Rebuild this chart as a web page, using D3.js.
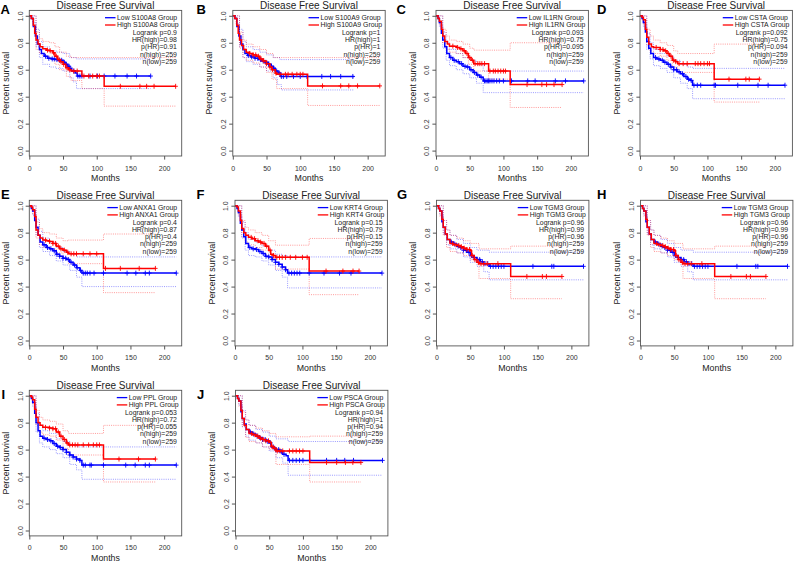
<!DOCTYPE html>
<html>
<head>
  <meta charset="utf-8">
  <title>Disease Free Survival</title>
  <script src="https://d3js.org/d3.v7.min.js"></script>
  <style>
    body { margin: 0; background: #fff; }
    text { font-family: "Liberation Sans", Arial, sans-serif; }
  </style>
</head>
<body>
  <script>
    // labels and statistics
    var letters = ["A", "B", "C", "D", "E", "F", "G", "H", "I", "J"];
    var genes = ["S100A8", "S100A9", "IL1RN", "CSTA", "ANXA1", "KRT4", "TGM3", "TGM3", "PPL", "PSCA"];
    var logrankP = ["0.9", "1", "0.093", "0.092", "0.4", "0.15", "0.96", "0.96", "0.053", "0.94"];
    var hrHigh = ["0.98", "1", "0.75", "0.75", "0.87", "0.79", "0.99", "0.99", "0.72", "1"];
    var pHR = ["0.91", "1", "0.095", "0.094", "0.4", "0.15", "0.96", "0.96", "0.055", "0.94"];
    var nHigh = [259, 259, 259, 259, 259, 259, 259, 259, 259, 259];
    var nLow = [259, 259, 259, 259, 259, 259, 259, 259, 259, 259];
    var xTicks = [0, 50, 100, 150, 200];
    var yTicks = [0, 0.2, 0.4, 0.6, 0.8, 1.0];

    // [months, survival] step points, censor times
    var aLow = [[0,1],[3,.98],[6,.92],[9,.85],[12,.79],[15,.75],[18,.72],[22,.70],[27,.685],[33,.68],[38,.675],[43,.67],[50,.655],[53,.64],[57,.625],[60,.61],[63,.59],[68,.575],[71,.553],[180,.553]];
    var aHigh = [[0,1],[3,.98],[6,.93],[8,.87],[10,.82],[13,.79],[16,.77],[20,.755],[25,.745],[30,.74],[35,.725],[38,.70],[42,.675],[46,.66],[50,.64],[54,.615],[58,.60],[62,.59],[78,.553],[111,.477],[217,.477]];
    var aLowUp = [[0,1],[5,1],[10,.9],[15,.81],[20,.77],[30,.74],[40,.73],[50,.72],[60,.69],[70,.68],[180,.68]];
    var aLowLo = [[0,1],[5,.95],[10,.77],[15,.69],[20,.64],[30,.62],[40,.61],[50,.59],[60,.54],[65,.51],[70,.46],[180,.46]];
    var aHighUp = [[0,1],[5,1],[10,.88],[15,.83],[20,.81],[30,.8],[38,.77],[45,.73],[55,.7],[62,.69],[217,.69]];
    var aHighLo = [[0,1],[5,.93],[10,.75],[15,.72],[20,.7],[30,.68],[38,.64],[45,.6],[55,.55],[62,.52],[78,.46],[111,.33],[217,.33]];
    var aLowCens = [24,29,34,37,41,45,48,52,55,59,66,72,75,78,90,101,111,127,145,159,180];
    var aHighCens = [27,31,36,40,44,47,51,56,60,66,71,81,88,94,100,104,135,164,174,185,217];

    var bLow = [[0,1],[3,.98],[6,.92],[9,.85],[12,.79],[15,.75],[18,.72],[22,.705],[27,.695],[33,.685],[38,.675],[43,.665],[48,.655],[53,.64],[57,.625],[60,.61],[63,.59],[67,.575],[71,.55],[180,.55]];
    var bHigh = [[0,1],[3,.98],[6,.93],[8,.87],[10,.82],[13,.78],[16,.75],[20,.73],[25,.72],[30,.71],[35,.70],[40,.68],[45,.665],[50,.645],[55,.62],[58,.60],[63,.575],[65,.566],[111,.48],[218,.48]];
    var bLowUp = [[0,1],[5,1],[10,.9],[15,.81],[20,.77],[30,.75],[40,.73],[50,.71],[60,.69],[70,.675],[180,.675]];
    var bLowLo = [[0,1],[5,.94],[10,.77],[15,.69],[20,.66],[30,.64],[40,.62],[50,.59],[60,.54],[66,.49],[72,.45],[180,.45]];
    var bHighUp = [[0,1],[5,1],[10,.88],[15,.82],[20,.79],[30,.77],[40,.75],[50,.72],[60,.69],[218,.69]];
    var bHighLo = [[0,1],[5,.93],[10,.76],[15,.69],[20,.67],[30,.65],[40,.62],[50,.58],[58,.53],[65,.46],[111,.335],[218,.335]];
    var bLowCens = [23,28,33,37,41,45,49,53,57,61,65,69,72,75,80,90,100,110,132,145,160,178];
    var bHighCens = [25,30,34,38,42,46,50,55,59,64,70,78,82,88,95,100,104,133,160,172,185,218];

    var cLow = [[0,1],[3,.98],[5,.95],[8,.87],[10,.82],[13,.77],[16,.72],[20,.69],[25,.67],[30,.66],[35,.645],[40,.625],[45,.62],[50,.60],[55,.58],[60,.56],[65,.545],[70,.517],[219,.517]];
    var cHigh = [[0,1],[3,.98],[5,.96],[8,.90],[10,.85],[13,.81],[17,.79],[20,.775],[30,.765],[35,.755],[40,.74],[44,.72],[48,.69],[52,.67],[56,.645],[78,.59],[110,.49],[187,.49]];
    var cLowUp = [[0,1],[5,1],[10,.88],[15,.8],[20,.75],[30,.72],[40,.69],[50,.67],[60,.64],[70,.59],[219,.59]];
    var cLowLo = [[0,1],[5,.92],[10,.76],[15,.67],[20,.63],[30,.60],[40,.57],[50,.54],[60,.5],[70,.43],[219,.43]];
    var cHighUp = [[0,1],[5,1],[10,.9],[15,.85],[20,.82],[30,.81],[40,.79],[50,.76],[56,.745],[110,.80],[187,.80]];
    var cHighLo = [[0,1],[5,.93],[10,.8],[15,.75],[20,.73],[30,.72],[40,.69],[48,.64],[56,.59],[78,.53],[110,.32],[187,.32]];
    var cLowCens = [22,27,33,38,43,47,52,57,62,67,72,74,76,78,80,83,86,90,94,100,112,136,147,177,192,219];
    var cHighCens = [25,32,37,42,46,50,54,58,62,65,68,72,80,85,88,92,96,100,103,135,157,164,175,187];

    var dLow = [[0,1],[3,.98],[5,.95],[8,.88],[10,.81],[13,.76],[16,.72],[20,.69],[25,.68],[30,.67],[35,.655],[40,.64],[45,.62],[50,.60],[55,.585],[60,.57],[65,.55],[70,.53],[75,.52],[78,.485],[215,.485]];
    var dHigh = [[0,1],[3,.99],[5,.97],[8,.9],[10,.84],[13,.79],[17,.77],[20,.765],[30,.75],[35,.74],[40,.72],[44,.70],[48,.67],[53,.66],[56,.645],[110,.53],[177,.53]];
    var dLowUp = [[0,1],[5,1],[10,.87],[15,.8],[20,.75],[30,.72],[40,.7],[50,.67],[60,.64],[70,.62],[78,.61],[215,.61]];
    var dLowLo = [[0,1],[5,.92],[10,.75],[15,.68],[20,.63],[30,.61],[40,.58],[50,.54],[60,.5],[70,.46],[78,.385],[215,.385]];
    var dHighUp = [[0,1],[5,1],[10,.9],[15,.85],[20,.82],[30,.8],[40,.78],[50,.74],[56,.72],[110,.79],[177,.79]];
    var dHighLo = [[0,1],[5,.94],[10,.78],[15,.74],[20,.72],[30,.7],[40,.67],[48,.62],[56,.58],[110,.36],[177,.36]];
    var dLowCens = [23,28,33,37,42,46,50,54,58,63,68,72,76,80,85,90,110,112,145,175,190,215];
    var dHighCens = [24,30,34,38,42,46,50,53,58,64,70,82,86,90,95,100,103,132,157,162,177];

    var eLow = [[0,1],[3,.98],[5,.96],[8,.89],[10,.84],[13,.78],[16,.73],[20,.71],[25,.69],[30,.68],[35,.665],[40,.64],[45,.625],[50,.61],[55,.60],[60,.58],[65,.56],[70,.54],[75,.52],[78,.50],[218,.50]];
    var eHigh = [[0,1],[3,.99],[5,.97],[8,.92],[10,.82],[13,.78],[16,.76],[20,.745],[25,.74],[30,.735],[35,.72],[40,.70],[45,.68],[50,.67],[55,.655],[58,.643],[110,.535],[187,.535]];
    var eLowUp = [[0,1],[5,1],[10,.9],[15,.81],[20,.76],[30,.73],[40,.69],[50,.66],[60,.64],[70,.62],[218,.62]];
    var eLowLo = [[0,1],[5,.93],[10,.78],[15,.69],[20,.66],[30,.63],[40,.59],[50,.56],[60,.52],[70,.47],[78,.40],[218,.40]];
    var eHighUp = [[0,1],[5,1],[10,.88],[15,.83],[20,.8],[30,.79],[40,.76],[50,.74],[58,.745],[110,.79],[187,.79]];
    var eHighLo = [[0,1],[5,.94],[10,.76],[15,.71],[20,.69],[30,.68],[40,.65],[50,.61],[58,.57],[110,.355],[187,.355]];
    var eLowCens = [22,27,32,37,41,45,50,54,58,62,67,71,76,80,83,86,90,96,110,145,158,172,178,218];
    var eHighCens = [24,30,35,39,43,47,52,57,62,66,70,80,90,100,113,135,163,187];

    var fLow = [[0,1],[3,.98],[5,.95],[8,.87],[10,.82],[13,.77],[16,.72],[20,.69],[25,.68],[30,.675],[35,.66],[40,.645],[45,.625],[50,.62],[55,.60],[60,.58],[65,.565],[70,.545],[75,.525],[78,.50],[218,.50]];
    var fHigh = [[0,1],[3,.99],[5,.96],[8,.89],[10,.83],[13,.80],[16,.78],[20,.765],[25,.755],[30,.74],[35,.73],[40,.72],[45,.70],[50,.67],[53,.64],[57,.63],[60,.617],[110,.515],[184,.515]];
    var fLowUp = [[0,1],[5,1],[10,.88],[15,.8],[20,.75],[30,.73],[40,.7],[50,.67],[60,.64],[70,.63],[78,.62],[218,.62]];
    var fLowLo = [[0,1],[5,.92],[10,.76],[15,.67],[20,.63],[30,.62],[40,.59],[50,.56],[60,.52],[70,.47],[78,.39],[218,.39]];
    var fHighUp = [[0,1],[5,1],[10,.89],[15,.84],[20,.82],[30,.8],[40,.78],[50,.74],[60,.707],[110,.757],[184,.757]];
    var fHighLo = [[0,1],[5,.93],[10,.77],[15,.73],[20,.71],[30,.69],[40,.67],[50,.61],[60,.53],[110,.34],[184,.34]];
    var fLowCens = [22,27,32,37,42,46,50,55,60,65,70,75,80,84,88,92,96,110,132,155,172,218];
    var fHighCens = [24,29,34,38,43,47,52,57,62,66,70,75,82,90,100,107,135,160,175,184];

    var gLow = [[0,1],[3,.98],[5,.96],[8,.88],[10,.84],[13,.79],[16,.75],[20,.73],[25,.715],[30,.70],[35,.69],[40,.67],[45,.655],[50,.63],[55,.615],[60,.60],[65,.585],[70,.57],[78,.55],[218,.55]];
    var gHigh = [[0,1],[3,.98],[5,.96],[8,.9],[10,.84],[13,.79],[16,.75],[20,.72],[25,.71],[30,.705],[35,.695],[40,.685],[45,.675],[50,.665],[52,.63],[56,.60],[60,.58],[63,.57],[110,.475],[186,.475]];
    var gLowUp = [[0,1],[5,1],[10,.89],[15,.82],[20,.78],[30,.75],[40,.72],[50,.69],[60,.67],[78,.655],[218,.655]];
    var gLowLo = [[0,1],[5,.93],[10,.79],[15,.71],[20,.68],[30,.65],[40,.62],[50,.58],[60,.55],[70,.51],[78,.45],[218,.45]];
    var gHighUp = [[0,1],[5,1],[10,.89],[15,.82],[20,.78],[30,.76],[40,.74],[50,.72],[63,.68],[110,.70],[186,.70]];
    var gHighLo = [[0,1],[5,.92],[10,.78],[15,.69],[20,.66],[30,.65],[40,.63],[50,.6],[63,.46],[110,.31],[186,.31]];
    var gLowCens = [22,27,32,36,40,44,48,52,56,60,64,68,72,76,80,84,88,92,96,100,143,171,174,218];
    var gHighCens = [24,29,33,37,41,45,49,53,57,62,66,70,75,91,134,157,163,186];

    var iLow = [[0,1],[3,.98],[5,.95],[8,.87],[10,.80],[13,.74],[16,.70],[20,.685],[25,.675],[30,.665],[35,.645],[40,.625],[45,.615],[50,.60],[55,.58],[60,.56],[65,.545],[70,.53],[75,.52],[78,.485],[218,.485]];
    var iHigh = [[0,1],[3,.99],[5,.97],[8,.9],[10,.84],[13,.80],[16,.78],[20,.765],[30,.76],[35,.755],[40,.73],[45,.70],[50,.675],[55,.65],[58,.635],[110,.53],[187,.53]];
    var iLowUp = [[0,1],[5,1],[10,.87],[15,.78],[20,.74],[30,.72],[40,.68],[50,.66],[60,.63],[70,.62],[218,.62]];
    var iLowLo = [[0,1],[5,.92],[10,.73],[15,.65],[20,.62],[30,.60],[40,.57],[50,.54],[60,.49],[70,.45],[78,.38],[218,.38]];
    var iHighUp = [[0,1],[5,1],[10,.89],[15,.84],[20,.82],[30,.81],[40,.79],[50,.74],[58,.72],[110,.78],[187,.78]];
    var iHighLo = [[0,1],[5,.94],[10,.78],[15,.73],[20,.71],[30,.70],[40,.67],[50,.61],[58,.56],[110,.36],[187,.36]];
    var iLowCens = [22,27,32,37,42,46,50,55,60,65,70,75,80,83,90,92,110,143,157,172,178,218];
    var iHighCens = [24,30,35,39,43,47,52,56,60,64,68,72,80,88,95,100,104,133,162,187];

    var jLow = [[0,1],[3,.98],[5,.96],[8,.88],[10,.83],[13,.79],[16,.75],[20,.73],[25,.715],[30,.70],[35,.69],[40,.675],[45,.66],[50,.65],[53,.62],[57,.61],[60,.60],[65,.585],[70,.565],[75,.555],[78,.52],[218,.52]];
    var jHigh = [[0,1],[3,.98],[5,.96],[8,.89],[10,.83],[13,.78],[16,.75],[20,.72],[25,.71],[30,.70],[35,.685],[40,.675],[45,.665],[50,.655],[53,.625],[56,.61],[60,.59],[110,.505],[186,.505]];
    var jLowUp = [[0,1],[5,1],[10,.89],[15,.82],[20,.78],[30,.75],[40,.73],[50,.7],[60,.68],[78,.66],[218,.66]];
    var jLowLo = [[0,1],[5,.93],[10,.77],[15,.7],[20,.67],[30,.65],[40,.62],[50,.59],[60,.54],[70,.5],[78,.41],[218,.41]];
    var jHighUp = [[0,1],[5,1],[10,.88],[15,.82],[20,.78],[30,.76],[40,.74],[50,.72],[60,.695],[110,.70],[186,.70]];
    var jHighLo = [[0,1],[5,.92],[10,.77],[15,.69],[20,.66],[30,.65],[40,.62],[50,.6],[60,.49],[110,.36],[186,.36]];
    var jLowCens = [22,27,32,36,40,44,48,52,56,60,64,68,72,80,85,90,95,100,110,135,150,162,175,218];
    var jHighCens = [24,29,33,37,41,45,49,54,58,62,66,70,80,85,90,95,100,135,150,163,174,186];

    var panels = [
      { low: aLow, high: aHigh, lowUp: aLowUp, lowLo: aLowLo, highUp: aHighUp, highLo: aHighLo, lowCens: aLowCens, highCens: aHighCens },
      { low: bLow, high: bHigh, lowUp: bLowUp, lowLo: bLowLo, highUp: bHighUp, highLo: bHighLo, lowCens: bLowCens, highCens: bHighCens },
      { low: cLow, high: cHigh, lowUp: cLowUp, lowLo: cLowLo, highUp: cHighUp, highLo: cHighLo, lowCens: cLowCens, highCens: cHighCens },
      { low: dLow, high: dHigh, lowUp: dLowUp, lowLo: dLowLo, highUp: dHighUp, highLo: dHighLo, lowCens: dLowCens, highCens: dHighCens },
      { low: eLow, high: eHigh, lowUp: eLowUp, lowLo: eLowLo, highUp: eHighUp, highLo: eHighLo, lowCens: eLowCens, highCens: eHighCens },
      { low: fLow, high: fHigh, lowUp: fLowUp, lowLo: fLowLo, highUp: fHighUp, highLo: fHighLo, lowCens: fLowCens, highCens: fHighCens },
      { low: gLow, high: gHigh, lowUp: gLowUp, lowLo: gLowLo, highUp: gHighUp, highLo: gHighLo, lowCens: gLowCens, highCens: gHighCens },
      { low: gLow, high: gHigh, lowUp: gLowUp, lowLo: gLowLo, highUp: gHighUp, highLo: gHighLo, lowCens: gLowCens, highCens: gHighCens },
      { low: iLow, high: iHigh, lowUp: iLowUp, lowLo: iLowLo, highUp: iHighUp, highLo: iHighLo, lowCens: iLowCens, highCens: iHighCens },
      { low: jLow, high: jHigh, lowUp: jLowUp, lowLo: jLowLo, highUp: jHighUp, highLo: jHighLo, lowCens: jLowCens, highCens: jHighCens }
    ];

    // layout
    var boxW = 152.4, boxH = 145.6;
    var panelLeft = [29.3, 232.8, 436, 640, 29.3, 235, 436.5, 640.5, 29.3, 235.5];
    var rowTop = [10.4, 200.3, 390.3];
    var letterPos = [[0.5, 13.5], [196.5, 13.5], [396.5, 13.5], [597, 13.5],
                     [1, 198.5], [196.5, 198.5], [397, 198.5], [597, 198.5],
                     [1.5, 398.5], [197, 398.5]];
    var blue = "#0000ff", red = "#ff0000";

    var svg = d3.select("body").append("svg")
      .attr("width", 795)
      .attr("height", 564)
      .style("display", "block");
    svg.append("rect").attr("width", 795).attr("height", 564).attr("fill", "#fff");

    var x = d3.scaleLinear().domain([0, 226]).range([0, boxW]);
    var y = d3.scaleLinear().domain([-0.04, 1.04]).range([boxH, 0]);
    var step = d3.line()
      .x(function(d) { return x(d[0]); })
      .y(function(d) { return y(d[1]); })
      .curve(d3.curveStepAfter);
    var bis = d3.bisector(function(d) { return d[0]; }).right;

    function survAt(curve, t) {
      var i = Math.max(0, bis(curve, t) - 1);
      return curve[i][1];
    }

    panels.forEach(function(p, k) {
      var top = rowTop[Math.floor(k / 4)];
      var g = svg.append("g")
        .attr("transform", "translate(" + panelLeft[k] + "," + top + ")");

      // confidence bands (dotted)
      [[p.lowUp, blue], [p.lowLo, blue], [p.highUp, red], [p.highLo, red]].forEach(function(c) {
        g.append("path")
          .attr("d", step(c[0]))
          .attr("fill", "none")
          .attr("stroke", c[1])
          .attr("stroke-opacity", 0.5)
          .attr("stroke-width", 0.8)
          .attr("stroke-dasharray", "1,1.2");
      });

      // survival curves + censor marks
      [[p.low, p.lowCens, blue], [p.high, p.highCens, red]].forEach(function(c) {
        g.append("path")
          .attr("d", step(c[0]))
          .attr("fill", "none")
          .attr("stroke", c[2])
          .attr("stroke-width", 1.5);
        g.selectAll(null)
          .data(c[1])
          .enter()
          .append("path")
          .attr("d", function(t) {
            var px = x(t), py = y(survAt(c[0], t));
            return "M" + (px - 2.2) + "," + py + "H" + (px + 2.2) +
                   "M" + px + "," + (py - 2.5) + "V" + (py + 2.5);
          })
          .attr("stroke", c[2])
          .attr("stroke-width", 0.9);
      });

      // frame
      g.append("rect")
        .attr("width", boxW)
        .attr("height", boxH)
        .attr("fill", "none")
        .attr("stroke", "#555")
        .attr("stroke-width", 0.9);

      // axes
      var ya = g.append("g").call(
        d3.axisLeft(y).tickValues(yTicks).tickSize(3.6).tickFormat(d3.format(".1f")));
      ya.select(".domain").remove();
      ya.selectAll("line").attr("stroke", "#555");
      ya.selectAll("text")
        .attr("x", null).attr("dy", null)
        .attr("transform", "translate(-6.8,0) rotate(-90)")
        .attr("text-anchor", "middle")
        .attr("fill", "#333")
        .style("font-size", "7px")
        .style("font-family", "'Liberation Sans', Arial, sans-serif");

      var xa = g.append("g")
        .attr("transform", "translate(0," + boxH + ")")
        .call(d3.axisBottom(x).tickValues(xTicks).tickSize(3.6).tickPadding(6));
      xa.select(".domain").remove();
      xa.selectAll("line").attr("stroke", "#555");
      xa.selectAll("text")
        .attr("fill", "#333")
        .style("font-size", "7px")
        .style("font-family", "'Liberation Sans', Arial, sans-serif");

      // titles
      g.append("text")
        .attr("x", boxW / 2).attr("y", -1.3)
        .attr("text-anchor", "middle")
        .attr("fill", "#222")
        .style("font-size", "10px")
        .text("Disease Free Survival");
      g.append("text")
        .attr("transform", "translate(-20.5," + (boxH / 2) + ") rotate(-90)")
        .attr("text-anchor", "middle")
        .attr("fill", "#222")
        .style("font-size", "8.8px")
        .text("Percent survival");
      g.append("text")
        .attr("x", boxW / 2).attr("y", boxH + 25.5)
        .attr("text-anchor", "middle")
        .attr("fill", "#222")
        .style("font-size", "8.8px")
        .text("Months");

      // legend
      var right = boxW - 3;
      var labels = ["Low " + genes[k] + " Group", "High " + genes[k] + " Group"];
      var lg = g.append("g").style("font-size", "6.9px");
      var tmp = labels.map(function(s, i) {
        return lg.append("text").attr("y", 7.3 * (i + 1) + 2.4).attr("fill", "#222").text(s);
      });
      var maxW = d3.max(tmp, function(t) { return t.node().getComputedTextLength(); });
      var tx = right - maxW;
      tmp.forEach(function(t, i) {
        t.attr("x", tx);
        lg.append("line")
          .attr("x1", tx - 12).attr("x2", tx - 1.5)
          .attr("y1", 7.3 * (i + 1)).attr("y2", 7.3 * (i + 1))
          .attr("stroke", i === 0 ? blue : red)
          .attr("stroke-width", 1.3);
      });
      var stats = ["Logrank p=" + logrankP[k], "HR(high)=" + hrHigh[k], "p(HR)=" + pHR[k],
                   "n(high)=" + nHigh[k], "n(low)=" + nLow[k]];
      lg.selectAll(".stat")
        .data(stats)
        .enter()
        .append("text")
        .attr("x", boxW - 4.8)
        .attr("y", function(d, i) { return 7.3 * (i + 3) + 2.4; })
        .attr("text-anchor", "end")
        .attr("fill", "#222")
        .text(function(d) { return d; });

      // panel letter
      svg.append("text")
        .attr("x", letterPos[k][0]).attr("y", letterPos[k][1])
        .attr("fill", "#000")
        .style("font-size", "13px")
        .style("font-weight", "bold")
        .text(letters[k]);
    });
  </script>
</body>
</html>
